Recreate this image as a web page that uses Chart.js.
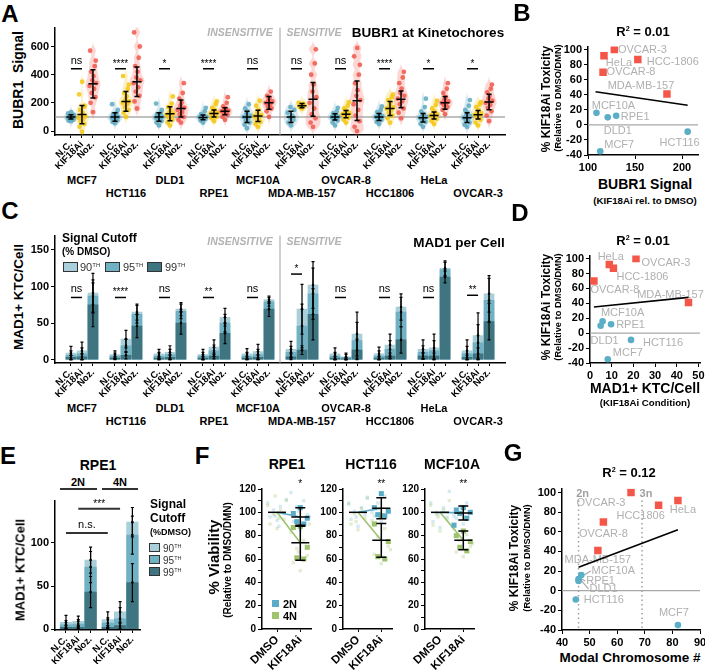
<!DOCTYPE html>
<html><head><meta charset="utf-8">
<script src="https://cdn.jsdelivr.net/npm/chart.js@4.4.0/dist/chart.umd.min.js"></script>
<style>
body{margin:0;width:705px;height:672px;position:relative;background:#fff;overflow:hidden}
canvas{position:absolute}
.tx{position:absolute;white-space:nowrap;line-height:1}
sup{font-size:0.55em;vertical-align:0.7em;line-height:0}
</style></head><body>
<script>
// --- DATA ---
const cellLines = ['MCF7','HCT116','DLD1','RPE1','MCF10A','MDA-MB-157','OVCAR-8','HCC1806','HeLa','OVCAR-3'];
const conditions = ['N.C.','KIF18Ai','Noz.'];

// A: BUBR1 signal per kinetochore (sample of cells)
const bubrNC = [
  [70,75,80,85,90,95,98,100,102,105,110,115,125,135],
  [55,65,75,85,90,95,100,105,110,120,130,150,190],
  [40,60,70,80,90,95,100,105,110,120,130,150,195],
  [60,75,85,90,95,98,100,105,110,120,140,165],
  [20,45,60,75,90,100,110,125,140,160,190],
  [40,60,80,95,110,130,150,170],
  [40,60,75,85,92,98,102,108,115,125,140,165],
  [50,65,80,90,95,100,105,110,120,135,150,175],
  [30,50,65,80,90,95,100,110,120,140,170,230],
  [30,45,60,75,85,95,105,115,130,150,180,220]
];
const bubrKIF = [
  [-5,30,50,70,85,95,105,115,130,150,170,180,260,350],
  [100,130,150,170,190,200,210,225,245,270,300,330,390],
  [40,60,80,95,105,115,125,135,150,170,195,245],
  [70,90,100,110,118,125,130,140,150,165,190,210],
  [30,50,65,80,95,105,115,130,150,180,215],
  [160,170,180,185,195,200],
  [60,80,95,105,112,120,128,135,145,160,180,205],
  [60,90,110,130,145,160,170,185,200,220,240,260],
  [50,70,85,95,105,110,118,125,140,160,185,215],
  [40,60,80,95,105,115,125,135,150,170,190,205]
];
const bubrNOZ = [
  [135,200,240,270,300,320,340,360,390,420,460,500,570],
  [160,210,250,280,310,340,360,380,420,460,520,600,700],
  [60,80,100,120,135,150,165,180,200,230,270,340],
  [80,100,115,125,132,140,145,150,160,175,200,240],
  [100,140,160,175,190,200,210,220,235,250,280],
  [30,60,90,120,160,200,240,280,330,400,480,580],
  [0,30,70,110,150,190,220,250,290,340,400,470,530,590],
  [90,130,160,190,210,230,250,270,300,340,380,420],
  [120,150,170,185,195,200,210,225,240,270,300,340],
  [70,110,140,165,185,200,215,230,250,275,300,330]
];
const bubrMean = [[100,117,335],[100,210,350],[100,123,160],[97,125,140],[100,107,200],
                  [100,180,225],[100,120,215],[100,160,225],[95,110,200],[95,115,207]];
const bubrSD = [[15,65,100],[30,70,105],[30,50,60],[17,25,25],[40,40,45],
                [40,15,120],[22,25,140],[25,50,60],[30,25,45],[35,30,55]];
const bubrSig = ['ns','****','*','****','ns','ns','ns','****','*','*'];
const bubrSigY = 442;
const bubrTicks = [0,200,400,600];

// C: MAD1+ kinetochores per cell, by signal cutoff
const mad90 = [[9,12,91],[7,28,65],[8,10,69],[7,17,58],[8,11,82],[14,69,102],[8,4,35],[8,20,72],[14,16,125],[12,33,90]];
const mad95 = [[6,8,87],[5,19,62],[5,7,66],[5,12,50],[5,7,79],[10,46,90],[5,3,26],[5,14,65],[10,12,123],[8,23,81]];
const mad99 = [[3,4,75],[2,6,46],[2,3,50],[2,5,36],[2,3,69],[4,13,62],[2,1,13],[2,5,27],[5,5,113],[3,8,52]];
const madSD90 = [[9,12,27],[5,12,11],[6,9,9],[7,10,12],[7,10,5],[11,34,32],[8,5,30],[9,15,18],[13,19,10],[15,31,25]];
const madSD95 = [[6,8,22],[4,9,12],[5,7,10],[5,8,12],[5,7,6],[8,30,35],[5,4,25],[7,12,20],[9,14,10],[10,25,30]];
const madSD99 = [[3,4,30],[2,5,16],[2,3,15],[2,4,14],[2,3,10],[4,6,35],[2,1,15],[2,4,18],[4,4,8],[3,8,25]];
const madSig = ['ns','****','ns','**','ns','*','ns','ns','ns','**'];
const madSigY = [85,85,85,85,85,117,85,85,85,88];
const madTicks = [0,50,100,150];
const cutoffs = ['90','95','99'];

// B, D, G: toxicity vs. readouts
const toxLines = ['OVCAR-3','HeLa','HCC-1806','OVCAR-8','MDA-MB-157','MCF10A','DLD1','RPE1','HCT116','MCF7'];
const toxLinesG = ['OVCAR-3','HeLa','HCC1806','OVCAR-8','MDA-MB-157','MCF10A','DLD1','RPE1','HCT116','MCF7'];
const toxSensitive = [1,1,1,1,1,0,0,0,0,0];
const toxicity = [100,92,87,70,41,16,10,12,-9,-35];
const bubrRel = [128,117,153,116,184,109,121,130,206,113];
const mad1Kif = [21.2,8.9,10.8,1.8,45.4,5.8,4.9,9.7,18.9,8.2];
const modalChrom = [65,82,75,55,53,47,46,46,45,82];
const fitB = [[108,44],[206,26]];
const fitD = [[1.8,35],[45.4,48]];
const fitG = [[46,24],[82,62]];
const toxTicks = [-40,-20,0,20,40,60,80,100];
const bTicks = [100,150,200];
const dTicks = [0,10,20,30,40,50];
const gTicks = [40,50,60,70,80,90];
const ploidyX = [46,69];
const ploidyLab = ['2n','3n'];

// E: RPE1 2N vs 4N
const eCond = ['N.C.','KIF18Ai','Noz.','N.C.','KIF18Ai','Noz.'];
const e90 = [8,9,80,11,20,124];
const e95 = [5,6,72,7,12,109];
const e99 = [2,2,43,2,4,54];
const eSD90 = [8,6,15,9,12,17];
const eSD95 = [5,5,18,6,13,22];
const eSD99 = [2,2,18,2,3,22];
const eTicks = [0,50,100];

// F: viability
const fLines = ['RPE1','HCT116','MCF10A'];
const fCond = ['DMSO','KIF18Ai'];
const fMean2N = [96,103.5,99.5];
const fSD2N = [8,9,6];
const fMean4N = [74,76,76];
const fSD4N = [15,14.5,8];
const fRep2N = [[104,99,95,92,90],[116,104,101,98,97],[104,102,100,99,95,89]];
const fRep4N = [[88,87,70,61,60],[97,90,75,62,60],[84,80,75,70,67]];
const fDmso2N = [[93,96,99,102,105,108,111,97,88],[88,94,98,101,104,107,112,96],[87,92,96,100,104,108,118,99]];
const fDmso4N = [[86,90,94,98,102,106,110,114,95],[85,90,95,99,103,108,113,92],[84,89,94,98,102,106,110,96]];
const fKif2N = [[85,92,98,105,110,117,96,101],[92,97,102,108,114,100],[90,95,100,104,108,97]];
const fKif4N = [[50,57,63,69,76,83,90,66],[56,64,71,79,86,93,68],[62,66,71,76,81,86,73]];
const fSig = ['*','**','**'];
const fTicks = [0,10,20,30,40,50,60,70,80,90,100,110,120];

// --- STYLE ---
const FONT = '"Liberation Sans", Arial, Helvetica, sans-serif';
Chart.defaults.font.family = FONT;
Chart.defaults.color = '#000';
Chart.defaults.plugins.legend.display = false;
Chart.defaults.plugins.tooltip.enabled = false;
Chart.defaults.animation = false;

const cNC = [94,169,193], cKIF = [243,197,17], cNOZ = [241,88,76];
const condCols = [cNC, cKIF, cNOZ];
const rgba = (c, a) => `rgba(${c[0]},${c[1]},${c[2]},${a})`;
const layerCols = {'90': '#a9d0da', '95': '#70b1c3', '99': '#3e7581'};
const blue2N = [90,172,200], green4N = [158,194,110];
const redSq = '#f4574a', blueDot = '#5aaec5';

const catX = (g, j) => g * 4 + j;
const catPos = cellLines.flatMap((_, g) => [0,1,2].map(j => catX(g, j)));
const grpPos = cellLines.map((_, g) => catX(g, 1));
const dividerPos = 19;
const ePos = [0,1,2,3.4,4.4,5.4];
const jitA = [0,-0.22,0.22,-0.11,0.11,-0.3,0.3,-0.05,0.05,-0.16,0.16,0.26,-0.26,0.02];
const jitF = [0,-0.3,0.3,-0.15,0.15,-0.4,0.4,-0.08,0.08,-0.22,0.22,0.35,-0.35];

// --- HELPERS ---
function makeChart(area, pad, cfg) {
  const [l, t, w, h] = area, [pl, pt, pr, pb] = pad;
  const c = document.createElement('canvas');
  const W = Math.round(w + pl + pr), H = Math.round(h + pt + pb);
  c.width = W; c.height = H;
  c.style.left = (l - pl) + 'px'; c.style.top = (t - pt) + 'px';
  c.style.width = W + 'px'; c.style.height = H + 'px';
  document.body.appendChild(c);
  const o = cfg.options;
  o.responsive = false;
  o.layout = { padding: { top: pt, right: pr, left: 0, bottom: 0 } };
  o.scales.x.afterFit = s => { s.height = pb; };
  o.scales.y.afterFit = s => { s.width = pl; };
  const ch = new Chart(c, cfg);
  ch.pageLeft = l - pl; ch.pageTop = t - pt;
  return ch;
}
function catAxis(min, max, pos, lab, size) {
  return {
    type: 'linear', min, max, offset: false,
    afterBuildTicks: s => { s.ticks = pos.map(v => ({ value: v })); },
    ticks: { autoSkip: false, minRotation: 45, maxRotation: 45, padding: 1,
             font: { size: size || 9.5, weight: 'bold' }, color: '#000', callback: (v, i) => lab[i % lab.length] },
    grid: { display: true, drawOnChartArea: false, drawTicks: true, tickLength: 3, color: '#000', offset: false },
    border: { display: true, color: '#000', width: 1.5 }
  };
}
function valAxis(min, max, tickArr, opts = {}) {
  return {
    type: 'linear', min, max,
    afterBuildTicks: s => { s.ticks = tickArr.map(v => ({ value: v })); },
    ticks: { autoSkip: false, maxRotation: 0, padding: 2, font: { size: opts.size || 11, weight: 'bold' }, color: '#000',
             callback: opts.lab || (v => v) },
    grid: { display: true, drawOnChartArea: false, drawTicks: true, tickLength: 4, color: '#000' },
    border: { display: true, color: '#000', width: 1.5 }
  };
}
function violin(ctx, xc, ys, vals, color, halfMax) {
  const h = 22, lo = Math.min(...vals) - 3 * h, hi = Math.max(...vals) + 3 * h;
  const prof = [];
  for (let v = lo; v <= hi; v += 4) {
    let d = 0;
    vals.forEach(p => { d += Math.exp(-0.5 * ((v - p) / h) ** 2); });
    prof.push([v, d]);
  }
  const dmax = Math.max(...prof.map(p => p[1]));
  ctx.fillStyle = color;
  ctx.beginPath();
  prof.forEach(([v, d], k) => {
    const px = xc + d / dmax * halfMax, py = ys.getPixelForValue(v);
    if (k) ctx.lineTo(px, py); else ctx.moveTo(px, py);
  });
  for (let k = prof.length - 1; k >= 0; k--) ctx.lineTo(xc - prof[k][1] / dmax * halfMax, ys.getPixelForValue(prof[k][0]));
  ctx.closePath(); ctx.fill();
}
function meanBar(ctx, px, yTop, yMid, yBot, capW, midW) {
  ctx.beginPath();
  ctx.moveTo(px, yTop); ctx.lineTo(px, yBot);
  ctx.moveTo(px - capW, yTop); ctx.lineTo(px + capW, yTop);
  ctx.moveTo(px - capW, yBot); ctx.lineTo(px + capW, yBot);
  if (midW) { ctx.moveTo(px - midW, yMid); ctx.lineTo(px + midW, yMid); }
  ctx.stroke();
}
function sigMark(ctx, x1, x2, py, label) {
  ctx.beginPath(); ctx.moveTo(x1, py); ctx.lineTo(x2, py); ctx.stroke();
  const star = label.startsWith('*');
  ctx.font = (star ? '10px ' : '11px ') + FONT;
  ctx.textAlign = 'center'; ctx.textBaseline = 'alphabetic';
  ctx.fillText(label, (x1 + x2) / 2, py - (star ? 2 : 5));
}
function drawDivider(chart) {
  const { ctx, chartArea: ca, scales: { x } } = chart;
  const dx = x.getPixelForValue(dividerPos);
  ctx.save(); ctx.strokeStyle = '#a0a0a0'; ctx.lineWidth = 1;
  ctx.beginPath(); ctx.moveTo(dx, ca.top); ctx.lineTo(dx, ca.bottom); ctx.stroke(); ctx.restore();
}
function errLayers(chart, layers, posOf) {
  const { ctx, scales: { x, y } } = chart;
  ctx.save(); ctx.strokeStyle = '#000'; ctx.fillStyle = '#000'; ctx.lineWidth = 1.2;
  layers.forEach(([vals, sds]) => vals.forEach((v, k) => {
    const px = x.getPixelForValue(posOf(k));
    meanBar(ctx, px, y.getPixelForValue(v + sds[k]), 0, y.getPixelForValue(Math.max(0, v - sds[k])), 1.5, 0);
    ctx.beginPath(); ctx.arc(px, y.getPixelForValue(v), 1.3, 0, 2 * Math.PI); ctx.fill();
  }));
  ctx.restore();
}

// --- PANEL A ---
const bubrPts = [bubrNC, bubrKIF, bubrNOZ];
const aDeco = {
  id: 'aDeco',
  beforeDatasetsDraw(chart) {
    const { ctx, chartArea: ca, scales: { x, y } } = chart;
    drawDivider(chart);
    ctx.save();
    ctx.beginPath(); ctx.rect(ca.left, ca.top, ca.width, ca.height); ctx.clip();
    bubrPts.forEach((set, j) => set.forEach((vals, g) => violin(ctx, x.getPixelForValue(catX(g, j)), y, vals, rgba(condCols[j], 0.24), 7.5)));
    ctx.strokeStyle = 'rgba(150,150,150,0.8)'; ctx.lineWidth = 1.5;
    const yr = y.getPixelForValue(100);
    ctx.beginPath(); ctx.moveTo(ca.left, yr); ctx.lineTo(ca.right, yr); ctx.stroke();
    ctx.restore();
  },
  afterDatasetsDraw(chart) {
    const { ctx, scales: { x, y } } = chart;
    ctx.save(); ctx.strokeStyle = '#000'; ctx.fillStyle = '#000'; ctx.lineWidth = 1.5;
    bubrMean.forEach((row, g) => row.forEach((m, j) => {
      const s = bubrSD[g][j];
      meanBar(ctx, x.getPixelForValue(catX(g, j)), y.getPixelForValue(m + s), y.getPixelForValue(m), y.getPixelForValue(m - s), 2.5, 4.5);
    }));
    bubrSig.forEach((lab, g) => sigMark(ctx, x.getPixelForValue(catX(g, 0)), x.getPixelForValue(catX(g, 1)), y.getPixelForValue(bubrSigY), lab));
    ctx.restore();
  }
};
const chartA = makeChart([55, 27, 450, 108], [28, 8, 12, 34], {
  type: 'scatter',
  data: { datasets: [2, 1, 0].map(j => ({
    data: bubrPts[j].flatMap((vals, g) => vals.map((v, i) => ({ x: catX(g, j) + jitA[i % jitA.length], y: v }))),
    backgroundColor: rgba(condCols[j], 0.85), borderWidth: 0, pointRadius: 2.4
  })) },
  options: { scales: { x: catAxis(-1.45, 39.45, catPos, conditions), y: valAxis(-28, 734, bubrTicks) } },
  plugins: [aDeco]
});

// --- PANEL C ---
const cDeco = {
  id: 'cDeco',
  beforeDatasetsDraw(chart) { drawDivider(chart); },
  afterDatasetsDraw(chart) {
    const { ctx, scales: { x, y } } = chart;
    errLayers(chart, [[mad90.flat(), madSD90.flat()], [mad95.flat(), madSD95.flat()], [mad99.flat(), madSD99.flat()]], k => catPos[k]);
    ctx.save(); ctx.strokeStyle = '#000'; ctx.fillStyle = '#000'; ctx.lineWidth = 1.5;
    madSig.forEach((lab, g) => sigMark(ctx, x.getPixelForValue(catX(g, 0)), x.getPixelForValue(catX(g, 1)), y.getPixelForValue(madSigY[g]), lab));
    ctx.restore();
  }
};
const madLayers = [['99', mad99], ['95', mad95], ['90', mad90]];
const chartC = makeChart([55, 235, 450, 128], [28, 8, 12, 34], {
  type: 'bar',
  data: { datasets: madLayers.map(([k, L]) => ({
    data: catPos.map((x, i) => ({ x, y: L[Math.floor(i / 3)][i % 3] })),
    backgroundColor: layerCols[k], borderWidth: 0, barThickness: 10, grouped: false
  })) },
  options: { scales: { x: catAxis(-1.45, 39.45, catPos, conditions), y: valAxis(-4.6, 169.6, madTicks) } },
  plugins: [cDeco]
});

// --- PANELS B, D, G ---
function toxChart(area, xv, xr, xt, fit, names, offs, leaders, extra) {
  const red = [], blue = [];
  xv.forEach((v, i) => (toxSensitive[i] ? red : blue).push({ x: v, y: toxicity[i] }));
  return makeChart(area, [34, 8, 12, 18], {
    type: 'scatter',
    data: { datasets: [
      { data: red, pointStyle: 'rect', pointRadius: 5.3, backgroundColor: redSq, borderWidth: 0 },
      { data: blue, pointStyle: 'circle', pointRadius: 3.3, backgroundColor: blueDot, borderWidth: 0 },
      { type: 'line', data: fit.map(p => ({ x: p[0], y: p[1] })), borderColor: '#000', borderWidth: 1.6, pointRadius: 0 }
    ] },
    options: { scales: { x: valAxis(xr[0], xr[1], xt), y: valAxis(-40, 104, toxTicks) } },
    plugins: [{
      id: 'toxDeco',
      beforeDatasetsDraw(chart) {
        const { ctx, chartArea: ca, scales: { x, y } } = chart;
        ctx.save();
        ctx.strokeStyle = '#a8a8a8'; ctx.lineWidth = 1.2;
        const y0 = y.getPixelForValue(0);
        ctx.beginPath(); ctx.moveTo(ca.left, y0); ctx.lineTo(ca.right, y0); ctx.stroke();
        if (extra) extra(chart);
        ctx.font = '11px ' + FONT; ctx.fillStyle = '#b0b0b0'; ctx.textAlign = 'center'; ctx.textBaseline = 'middle';
        names.forEach((n, i) => {
          const px = x.getPixelForValue(xv[i]), py = y.getPixelForValue(toxicity[i]);
          const lx = px + offs[i][0], ly = py + offs[i][1];
          ctx.fillText(n, lx, ly);
          if (leaders && leaders[i]) {
            const w = ctx.measureText(n).width;
            ctx.beginPath(); ctx.moveTo(lx - w / 2 - 1, ly); ctx.lineTo(px + 3, py); ctx.stroke();
          }
        });
        ctx.restore();
      }
    }]
  });
}
const offB = [[28,0],[15,7],[35,3],[28,0],[-26,-8],[17,-7],[10,14],[19,1],[-8,11],[19,-6]];
const offD = [[30,4],[1.5,-8],[29,9],[21,9],[-18,-8],[20,-8],[4,15],[19.5,1],[32,3],[20,-6]];
const offG = [[-30,10],[5,10],[-18,11],[0,12],[0,10],[32,-4],[25,8],[22,2],[28,0],[-4,-12]];
const leadG = [0,0,0,0,0,1,1,1,0,0];
toxChart([588, 46, 110, 109], bubrRel, [100, 217], bTicks, fitB, toxLines, offB);
toxChart([590, 254.7, 110, 108], mad1Kif, [0, 50.7], dTicks, fitD, toxLines, offD);
toxChart([562, 488, 138, 142], modalChrom, [40, 90], gTicks, fitG, toxLinesG, offG, leadG, chart => {
  const { ctx, chartArea: ca, scales: { x } } = chart;
  ctx.save(); ctx.strokeStyle = '#a0a0a0'; ctx.lineWidth = 1.5; ctx.setLineDash([1.5, 3]);
  ctx.font = 'bold 11px ' + FONT; ctx.fillStyle = '#a0a0a0'; ctx.textAlign = 'center'; ctx.textBaseline = 'middle';
  ploidyX.forEach((v, i) => {
    const px = x.getPixelForValue(v);
    ctx.beginPath(); ctx.moveTo(px, ca.top + 12); ctx.lineTo(px, ca.bottom); ctx.stroke();
    ctx.fillText(ploidyLab[i], px + 4, ca.top + 5);
  });
  ctx.restore();
});

// --- PANEL E ---
const eLayers = [['99', e99], ['95', e95], ['90', e90]];
const eSig = [{ from: 0, to: 3.4, y: 111.4, label: 'n.s.' }, { from: 1, to: 4.4, y: 139.6, label: '***' }];
makeChart([55, 500, 85, 130], [28, 8, 12, 34], {
  type: 'bar',
  data: { datasets: eLayers.map(([k, L]) => ({
    data: ePos.map((x, i) => ({ x, y: L[i] })),
    backgroundColor: layerCols[k], borderWidth: 0, barThickness: 11.5, grouped: false
  })) },
  options: { scales: { x: catAxis(-0.894, 6.02, ePos, eCond), y: valAxis(-1, 149, eTicks) } },
  plugins: [{
    id: 'eDeco',
    afterDatasetsDraw(chart) {
      const { ctx, scales: { x, y } } = chart;
      errLayers(chart, [[e90, eSD90], [e95, eSD95], [e99, eSD99]], k => ePos[k]);
      ctx.save(); ctx.strokeStyle = '#333'; ctx.fillStyle = '#000'; ctx.lineWidth = 2;
      eSig.forEach(s => sigMark(ctx, x.getPixelForValue(s.from), x.getPixelForValue(s.to), y.getPixelForValue(s.y), s.label));
      ctx.restore();
    }
  }]
});

// --- PANEL F ---
const fLeft = [262, 343, 425];
fLines.forEach((name, i) => {
  const pts = (vals, xc) => vals.map((v, k) => ({ x: xc + jitF[k % jitF.length], y: v }));
  const sq = (data, col, a, r) => ({ data, pointStyle: 'rect', pointRadius: r, backgroundColor: rgba(col, a), borderWidth: 0 });
  makeChart([fLeft[i], 489, 49, 140], [24, 14, 10, 48], {
    type: 'scatter',
    data: { datasets: [
      sq(pts(fRep2N[i], 1), blue2N, 1, 3.6),
      sq(pts(fRep4N[i], 1), green4N, 1, 3.6),
      { type: 'line', data: [{ x: 0, y: 100 }, { x: 1, y: fMean2N[i] }], borderColor: rgba(blue2N, 1), borderWidth: 1.6, pointRadius: 0 },
      { type: 'line', data: [{ x: 0, y: 100 }, { x: 1, y: fMean4N[i] }], borderColor: rgba(green4N, 1), borderWidth: 1.6, pointRadius: 0 },
      sq(pts(fDmso2N[i], 0), blue2N, 0.25, 2.4),
      sq(pts(fDmso4N[i], 0), green4N, 0.3, 2.4),
      sq(pts(fKif2N[i], 1), blue2N, 0.25, 2.4),
      sq(pts(fKif4N[i], 1), green4N, 0.3, 2.4)
    ] },
    options: { scales: {
      x: catAxis(-0.644, 1.459, [0, 1], fCond, 11.5),
      y: valAxis(0, 120, fTicks, { size: 10, lab: v => (v % 20 === 0 ? v : '') })
    } },
    plugins: [{
      id: 'fDeco',
      afterDatasetsDraw(chart) {
        const { ctx, chartArea: ca, scales: { x, y } } = chart;
        ctx.save(); ctx.strokeStyle = '#000'; ctx.lineWidth = 1.5;
        const x0 = x.getPixelForValue(0), x1 = x.getPixelForValue(1);
        ctx.beginPath(); ctx.moveTo(x0 - 9, y.getPixelForValue(100)); ctx.lineTo(x0 + 9, y.getPixelForValue(100)); ctx.stroke();
        [[fMean2N[i], fSD2N[i]], [fMean4N[i], fSD4N[i]]].forEach(([m, s]) =>
          meanBar(ctx, x1, y.getPixelForValue(m + s), y.getPixelForValue(m), y.getPixelForValue(m - s), 5, 9));
        ctx.font = '10px ' + FONT; ctx.fillStyle = '#000'; ctx.textAlign = 'center'; ctx.textBaseline = 'alphabetic';
        ctx.fillText(fSig[i], x1, ca.top - 2);
        ctx.restore();
      }
    }]
  });
});

// --- TEXT ---
function txt(html, x, y, font, o = {}) {
  const d = document.createElement('div');
  d.className = 'tx';
  d.innerHTML = html;
  d.style.left = x + 'px'; d.style.top = y + 'px';
  d.style.font = font + ' ' + FONT;
  d.style.color = o.color || '#000';
  const tx = o.align === 'left' ? '0' : (o.align === 'right' ? '-100%' : '-50%');
  d.style.transform = `translate(${tx},-50%)` + (o.rot ? ` rotate(${o.rot}deg)` : '');
  document.body.appendChild(d);
}
function rectDiv(x, y, w, h, bg, border) {
  const d = document.createElement('div');
  d.style.cssText = `position:absolute;left:${x}px;top:${y}px;width:${w}px;height:${h}px;background:${bg};box-sizing:border-box;` + (border ? 'border:1px solid #333;' : '');
  document.body.appendChild(d);
}
const gray = { color: '#b3b3b3' };

// panel letters
[['A',10,14],['B',522,13],['C',10,211],['D',520,213],['E',8,456],['F',202,456],['G',513,453]]
  .forEach(([l, x, y]) => txt(l, x, y, 'bold 24px'));

// A
txt('BUBR1&nbsp;&nbsp;Signal', 18, 80, 'bold 14px', { rot: -90 });
txt('INSENSITIVE', 240, 32, 'italic bold 10.5px', gray);
txt('SENSITIVE', 314, 32, 'italic bold 10.5px', gray);
txt('BUBR1 at Kinetochores', 428, 32, 'bold 13.5px');
grpPos.forEach((v, g) => {
  txt(cellLines[g], chartA.pageLeft + chartA.scales.x.getPixelForValue(v), g % 2 ? 193 : 180, 'bold 11px');
  txt(cellLines[g], chartC.pageLeft + chartC.scales.x.getPixelForValue(v), g % 2 ? 421 : 408, 'bold 11px');
});

// C
txt('MAD1+ KTC/Cell', 18, 297, 'bold 13.5px', { rot: -90 });
txt('Signal Cutoff', 62, 238, 'bold 12px', { align: 'left' });
txt('(% DMSO)', 62, 251, 'bold 10px', { align: 'left' });
[[63, 80], [105, 123], [147, 165]].forEach(([bx, tx], k) => {
  rectDiv(bx, 262, 15, 10, layerCols[cutoffs[k]], true);
  txt(cutoffs[k] + '<sup>TH</sup>', tx, 267, '11px', { align: 'left', color: '#333' });
});
txt('INSENSITIVE', 240, 241, 'italic bold 10.5px', gray);
txt('SENSITIVE', 314, 241, 'italic bold 10.5px', gray);
txt('MAD1 per Cell', 459, 242, 'bold 13.5px');

// B
txt('R<sup>2</sup> = 0.01', 643, 31, 'bold 13px');
txt('% KIF18Ai Toxicity', 546, 99, 'bold 12px', { rot: -90 });
txt('(Relative to DMSO/DMN)', 558, 98, 'bold 9.3px', { rot: -90 });
txt('BUBR1 Signal', 645, 184, 'bold 14px');
txt('(KIF18Ai rel. to DMSO)', 645, 200, 'bold 9.7px');

// D
txt('R<sup>2</sup> = 0.01', 643, 240, 'bold 13px');
txt('% KIF18Ai Toxicity', 546, 307, 'bold 12px', { rot: -90 });
txt('(Relative to DMSO/DMN)', 558, 307, 'bold 9.3px', { rot: -90 });
txt('MAD1+ KTC/Cell', 645, 388, 'bold 14px');
txt('(KIF18Ai Condition)', 645, 402, 'bold 9.7px');

// E
txt('RPE1', 98, 465, 'bold 14px');
txt('2N', 78, 482, 'bold 11px');
txt('4N', 120, 482, 'bold 11px');
rectDiv(60, 488, 37, 2, '#333');
rectDiv(102, 488, 36, 2, '#333');
txt('MAD1+ KTC/Cell', 20, 570, 'bold 13px', { rot: -90 });
txt('Signal', 150, 504, 'bold 12px', { align: 'left' });
txt('Cutoff', 150, 518, 'bold 12px', { align: 'left' });
txt('(%DMSO)', 150, 532, 'bold 9px', { align: 'left' });
[543, 555, 567].forEach((by, k) => {
  rectDiv(149, by, 11, 9, layerCols[cutoffs[k]], true);
  txt(cutoffs[k] + '<sup>TH</sup>', 163, by + 5, '10px', { align: 'left', color: '#333' });
});

// F
txt('% Viability', 213, 557, 'bold 15px', { rot: -90 });
txt('(Relative to DMSO/DMN)', 227, 560, 'bold 10px', { rot: -90 });
[[287, 'RPE1'], [371, 'HCT116'], [452, 'MCF10A']].forEach(([x, t]) => txt(t, x, 464, 'bold 14px'));
rectDiv(272, 600, 7, 7, rgba(blue2N, 1));
txt('2N', 283, 603.5, 'bold 11px', { align: 'left' });
rectDiv(272, 612, 7, 7, rgba(green4N, 1));
txt('4N', 283, 615.5, 'bold 11px', { align: 'left' });

// G
txt('R<sup>2</sup> = 0.12', 629, 472, 'bold 13px');
txt('% KIF18Ai Toxicity', 514, 558, 'bold 12px', { rot: -90 });
txt('(Relative to DMSO/DMN)', 527, 558, 'bold 9.3px', { rot: -90 });
txt('Modal Chromosome #', 630, 657, 'bold 13.5px');
</script>
</body></html>
